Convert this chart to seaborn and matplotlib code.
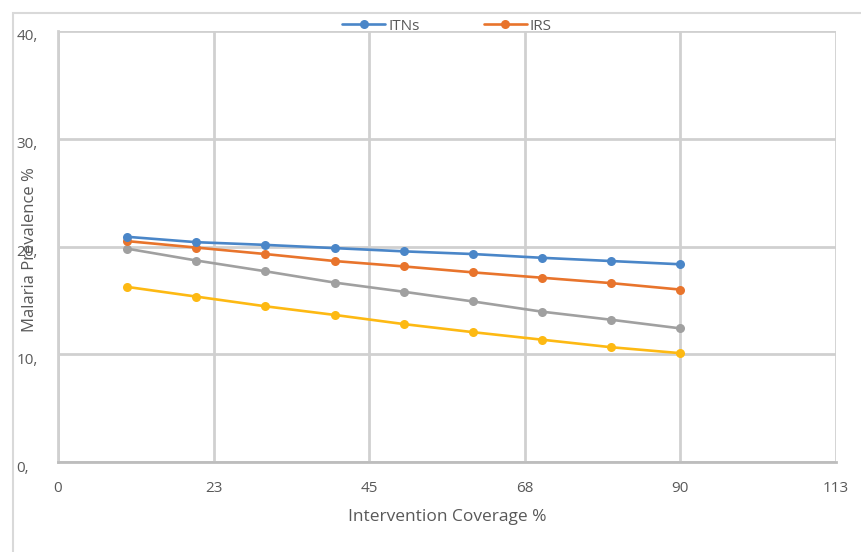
import matplotlib
matplotlib.use("Agg")
import matplotlib.pyplot as plt
import matplotlib.transforms as mtransforms
import seaborn as sns
import pandas as pd
from matplotlib.patches import Rectangle

coverage = [10, 20, 30, 40, 50, 60, 70, 80, 90]
itns = [20.9, 20.4, 20.15, 19.85, 19.55, 19.3, 18.95, 18.65, 18.35]
irs = [20.5, 19.9, 19.3, 18.65, 18.15, 17.6, 17.1, 16.6, 16.0]
series3 = [19.8, 18.7, 17.7, 16.65, 15.8, 14.9, 13.95, 13.2, 12.4]
series4 = [16.25, 15.35, 14.45, 13.65, 12.8, 12.05, 11.35, 10.65, 10.1]

x_ticks = [0, 22.5, 45, 67.5, 90, 112.5]
x_tick_labels = ["0", "23", "45", "68", "90", "113"]
y_ticks = [0, 10, 20, 30, 40]
y_tick_labels = ["0,", "10,", "20,", "30,", "40,"]

df = pd.DataFrame({"coverage": coverage, "ITNs": itns, "IRS": irs,
                   "S3": series3, "S4": series4})

sns.set_style("white")
plt.rcParams['font.family'] = ['Open Sans', 'DejaVu Sans']
txt = "#595959"
grid_c = "#d0d0d0"

fig = plt.figure(figsize=(8.61, 5.52), dpi=100)
ax = fig.add_axes([58/861, 1-462/552, (836-58)/861, (462-31)/552])

styles = [("ITNs", "#4a86c8", "ITNs"), ("IRS", "#e8742c", "IRS"),
          ("S3", "#a0a0a0", "_s3"), ("S4", "#fdb913", "_s4")]
for col, color, lab in reversed(styles):
    sns.lineplot(data=df, x="coverage", y=col, ax=ax, color=color, lw=1.9,
                 marker="o", markersize=6.5, markeredgewidth=0, label=lab,
                 legend=False)

ax.set_xlim(0, 112.5)
ax.set_ylim(0, 40)
ax.set_xticks(x_ticks)
ax.set_xticklabels(x_tick_labels)
ax.set_yticks(y_ticks)
ax.set_yticklabels(y_tick_labels)
ax.grid(True, color=grid_c, lw=2)
ax.set_axisbelow(True)
for s in ["top", "right"]:
    ax.spines[s].set_visible(False)
ax.spines["left"].set_color(grid_c)
ax.spines["left"].set_linewidth(2)
ax.spines["bottom"].set_color("#bdbdbd")
ax.spines["bottom"].set_linewidth(2)
ax.tick_params(axis="both", length=0, labelsize=11, labelcolor=txt)
ax.tick_params(axis="x", pad=14)
ax.tick_params(axis="y", pad=30)
shift = mtransforms.ScaledTranslation(0, -4/100, fig.dpi_scale_trans)
for lbl in ax.get_yticklabels():
    lbl.set_horizontalalignment("left")
    lbl.set_transform(lbl.get_transform() + shift)

ax.set_xlabel("Intervention Coverage %", fontsize=12.5, color=txt, labelpad=9)
ax.set_ylabel("")
fig.text(30/861, 1-250/552, "Malaria Prevalence %", rotation=90, fontsize=12,
         color=txt, ha="center", va="center")

handles, labels = ax.get_legend_handles_labels()
order = [labels.index("ITNs"), labels.index("IRS")]
fig.legend([handles[i] for i in order], [labels[i] for i in order],
           loc="center", bbox_to_anchor=(447/861, 1-26/552), ncol=2,
           frameon=False, fontsize=11, labelcolor=txt, handlelength=2.8,
           columnspacing=4.2, handletextpad=0.2)

fig.add_artist(Rectangle((13/861, -0.1), 1.0, 1.1 - 13/552, fill=False,
                         edgecolor="#d9d9d9", lw=1.5, transform=fig.transFigure,
                         clip_on=False))

fig.savefig("out.png", dpi=100, facecolor="white")
